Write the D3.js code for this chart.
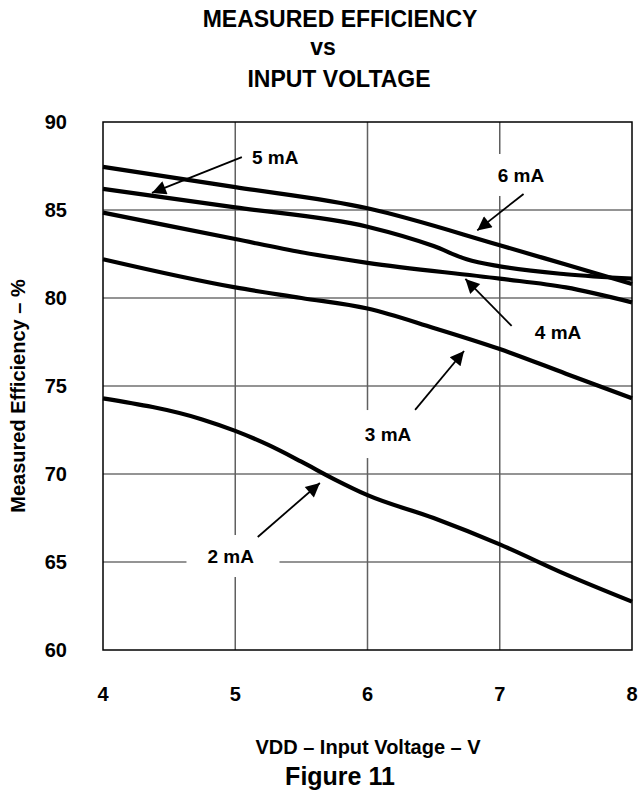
<!DOCTYPE html>
<html>
<head>
<meta charset="utf-8">
<script src="https://cdn.jsdelivr.net/npm/d3@7"></script>
<style>
  body { margin: 0; background: #fff; }
  text { font-family: "Liberation Sans", Arial, sans-serif; font-weight: bold; fill: #000; }
</style>
</head>
<body>
<div id="chart"></div>
<script>
// data (VDD in V, efficiency in %)
var v2 = [4, 4.75, 5, 5.25, 5.5, 5.75, 6, 6.5, 7, 7.5, 8];
var eff2 = [74.3, 73.1, 72.45, 71.65, 70.7, 69.7, 68.8, 67.5, 66.0, 64.3, 62.75];
var v3 = [4, 5, 5.5, 6, 6.5, 7, 7.5, 8];
var eff3 = [82.2, 80.6, 80.0, 79.4, 78.3, 77.1, 75.7, 74.3];
var v4 = [4, 5, 5.5, 6, 7, 7.5, 8];
var eff4 = [84.85, 83.35, 82.6, 82.0, 81.1, 80.6, 79.75];
var v5 = [4, 5, 6, 6.5, 6.75, 7, 7.5, 8];
var eff5 = [86.2, 85.15, 84.05, 82.95, 82.2, 81.8, 81.35, 81.1];
var v6 = [4, 5, 6, 7, 7.5, 8];
var eff6 = [87.45, 86.3, 85.1, 83.0, 81.9, 80.8];

var xTicks = [4, 5, 6, 7, 8];
var yTicks = [60, 65, 70, 75, 80, 85, 90];

// labels and arrows, in data units
var labels = ["2 mA", "3 mA", "4 mA", "5 mA", "6 mA"];
var labelPos = [[4.79, 65.34], [5.98, 72.27], [7.265, 78.07], [5.126, 88.0], [6.985, 86.99]];
var arrowFrom = [[5.17, 66.42], [6.36, 73.64], [7.09, 78.41], [5.05, 88.0], [7.18, 85.91]];
var arrowTo = [[5.64, 69.49], [6.73, 76.99], [6.74, 81.08], [4.37, 85.97], [6.83, 83.84]];
var boxPad = [[21, 13], [16, 16], [0, 0], [8, 10], [8, 13]];

var series = [
  {v: v2, e: eff2}, {v: v3, e: eff3}, {v: v4, e: eff4}, {v: v5, e: eff5}, {v: v6, e: eff6}
];

var W = 641, H = 795;
var margin = {top: 122, right: 9, bottom: 145, left: 103},
    width = W - margin.left - margin.right,
    height = H - margin.top - margin.bottom;

var svg = d3.select("#chart").append("svg")
    .attr("width", W).attr("height", H);

var g = svg.append("g")
    .attr("transform", "translate(" + margin.left + "," + margin.top + ")");

var x = d3.scaleLinear().domain([4, 8]).range([0, width]);
var y = d3.scaleLinear().domain([60, 90]).range([height, 0]);

// grid
g.append("g").selectAll("line.h").data(yTicks.slice(1, -1)).enter().append("line")
    .attr("x1", 0).attr("x2", width)
    .attr("y1", function(d) { return y(d); }).attr("y2", function(d) { return y(d); })
    .attr("stroke", "#707070").attr("stroke-width", 1.5);
g.append("g").selectAll("line.v").data(xTicks.slice(1, -1)).enter().append("line")
    .attr("y1", 0).attr("y2", height)
    .attr("x1", function(d) { return x(d); }).attr("x2", function(d) { return x(d); })
    .attr("stroke", "#606060").attr("stroke-width", 1.5);

// white boxes behind the labels (they cut the grid)
labels.forEach(function(t, i) {
  var tx = x(labelPos[i][0]), ty = y(labelPos[i][1]);
  var tw = 51;
  if (boxPad[i][0] === 0) return;
  g.append("rect")
    .attr("x", tx - boxPad[i][0]).attr("y", ty - 8 - boxPad[i][1])
    .attr("width", tw + 2 * boxPad[i][0]).attr("height", 16 + 2 * boxPad[i][1])
    .attr("fill", "#fff");
});

// frame
g.append("rect").attr("width", width).attr("height", height)
    .attr("fill", "none").attr("stroke", "#000").attr("stroke-width", 1.5);

// curves
var line = d3.line()
    .curve(d3.curveMonotoneX)
    .x(function(d) { return x(d[0]); })
    .y(function(d) { return y(d[1]); });

series.forEach(function(s) {
  g.append("path")
    .datum(d3.zip(s.v, s.e))
    .attr("fill", "none")
    .attr("stroke", "#000")
    .attr("stroke-width", 4.2)
    .attr("stroke-linejoin", "round")
    .attr("d", line);
});

// arrows
svg.append("defs").append("marker")
    .attr("id", "head")
    .attr("viewBox", "0 0 10 10")
    .attr("refX", 10).attr("refY", 5)
    .attr("markerWidth", 17).attr("markerHeight", 14)
    .attr("markerUnits", "userSpaceOnUse")
    .attr("orient", "auto")
  .append("path").attr("d", "M0,0 L10,5 L0,10 Z").attr("fill", "#000");

labels.forEach(function(t, i) {
  g.append("line")
    .attr("x1", x(arrowFrom[i][0])).attr("y1", y(arrowFrom[i][1]))
    .attr("x2", x(arrowTo[i][0])).attr("y2", y(arrowTo[i][1]))
    .attr("stroke", "#000").attr("stroke-width", 1.8)
    .attr("marker-end", "url(#head)");
  g.append("text")
    .attr("x", x(labelPos[i][0])).attr("y", y(labelPos[i][1]))
    .attr("dy", "0.36em")
    .style("font-size", "19px")
    .text(t);
});

// axes labels
g.append("g").selectAll("text").data(yTicks).enter().append("text")
    .attr("x", -36).attr("y", function(d) { return y(d); })
    .attr("dy", "0.36em")
    .attr("text-anchor", "end")
    .style("font-size", "20px")
    .text(function(d) { return d; });

g.append("g").selectAll("text").data(xTicks).enter().append("text")
    .attr("x", function(d) { return x(d); }).attr("y", 701 - margin.top)
    .attr("text-anchor", "middle")
    .style("font-size", "20px")
    .text(function(d) { return d; });

// titles
svg.append("text").attr("x", 340).attr("y", 27).attr("text-anchor", "middle")
    .style("font-size", "23px").text("MEASURED EFFICIENCY");
svg.append("text").attr("x", 323).attr("y", 55).attr("text-anchor", "middle")
    .style("font-size", "23px").text("vs");
svg.append("text").attr("x", 339).attr("y", 87).attr("text-anchor", "middle")
    .style("font-size", "23px").text("INPUT VOLTAGE");

svg.append("text")
    .attr("transform", "translate(25,396) rotate(-90)")
    .attr("text-anchor", "middle")
    .style("font-size", "20px")
    .text("Measured Efficiency – %");

svg.append("text").attr("x", 368).attr("y", 754).attr("text-anchor", "middle")
    .style("font-size", "20px").text("VDD – Input Voltage – V");
svg.append("text").attr("x", 340).attr("y", 785).attr("text-anchor", "middle")
    .style("font-size", "25px").text("Figure 11");
</script>
</body>
</html>
